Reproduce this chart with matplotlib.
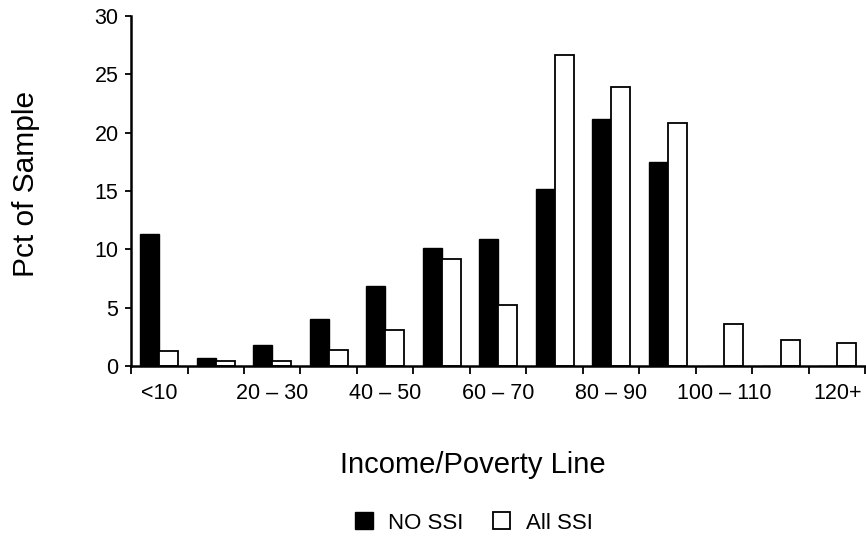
import numpy as np
import matplotlib
matplotlib.use("Agg")
import matplotlib.pyplot as plt

plt.rcParams['font.family'] = ['Liberation Sans', 'DejaVu Sans']

# income/poverty line brackets
categories = ["<10", "10 – 20", "20 – 30", "30 – 40", "40 – 50", "50 – 60", "60 – 70",
              "70 – 80", "80 – 90", "90 – 100", "100 – 110", "110 – 120", "120+"]
no_ssi = [11.3, 0.7, 1.8, 4.0, 6.9, 10.1, 10.9, 15.2, 21.2, 17.5, 0.0, 0.0, 0.0]
all_ssi = [1.3, 0.4, 0.45, 1.4, 3.1, 9.2, 5.2, 26.7, 23.9, 20.8, 3.6, 2.2, 2.0]
shown_labels = ["<10", "20 – 30", "40 – 50", "60 – 70", "80 – 90", "100 – 110", "120+"]

fig = plt.figure(figsize=(8.66, 5.38), dpi=100)
ax = fig.add_axes([0.1513, 0.3197, 0.848, 0.6503])

x = np.arange(len(categories))
w = 0.335
ax.bar(x - w / 2, no_ssi, width=w, color="black", edgecolor="black", linewidth=1, label="NO SSI")
ax.bar(x + w / 2, all_ssi, width=w, color="white", edgecolor="black", linewidth=1.3, label="All SSI")

ax.set_xlim(-0.5, len(categories) - 0.5)
ax.set_ylim(0, 30)
ax.set_yticks([0, 5, 10, 15, 20, 25, 30])

# labels only on every other bracket, tick marks on bracket boundaries
label_pos = [categories.index(c) for c in shown_labels]
ax.set_xticks(label_pos)
ax.set_xticklabels(shown_labels, fontsize=15.5)
ax.set_xticks(np.arange(-0.5, len(categories) + 0.5, 1), minor=True)
ax.tick_params(axis="x", which="major", length=0, pad=12)
ax.tick_params(axis="x", which="minor", length=6, width=1.3, direction="out")
ax.tick_params(axis="y", length=4, width=1.3, labelsize=15.5, pad=5)

for s in ["top", "right"]:
    ax.spines[s].set_visible(False)
for s in ["left", "bottom"]:
    ax.spines[s].set_linewidth(1.8)

ax.set_ylabel("Pct of Sample", fontsize=21.5)
ax.yaxis.set_label_coords(-0.124, 0.52)
ax.set_xlabel("Income/Poverty Line", fontsize=21)
ax.xaxis.set_label_coords(0.466, -0.243)

fig.legend(loc="center", bbox_to_anchor=(474 / 866, 1 - 523 / 538), ncol=2, frameon=False,
           fontsize=16, handlelength=0.8, handleheight=0.8, handletextpad=0.7,
           columnspacing=1.3)

fig.savefig("out.png", dpi=100)
